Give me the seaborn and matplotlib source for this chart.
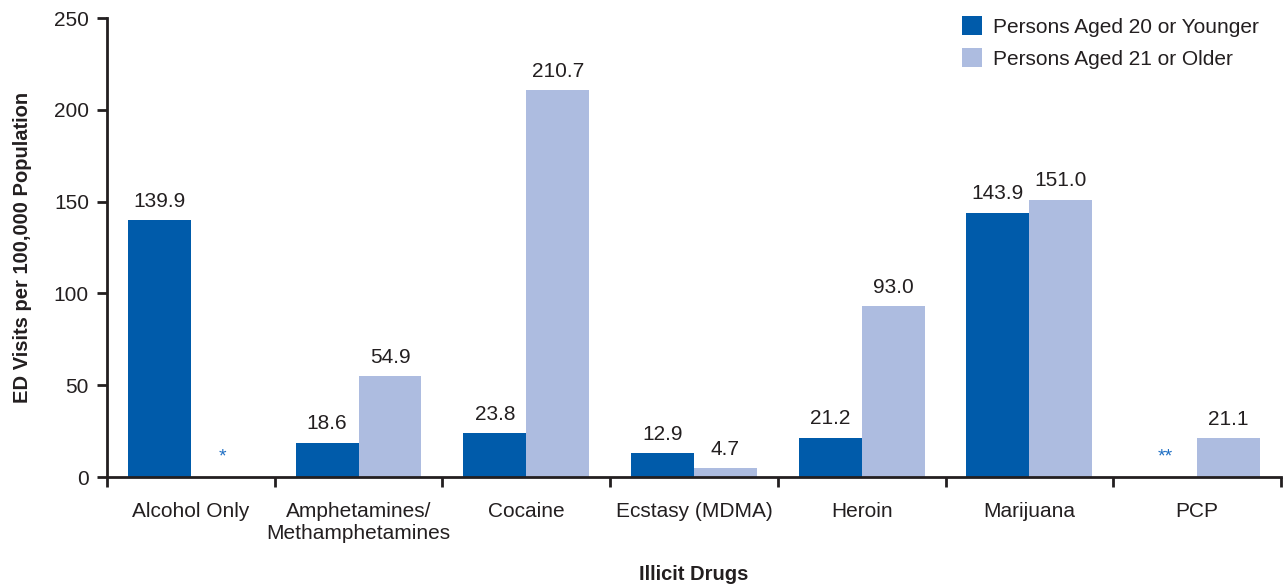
import numpy as np
import pandas as pd
import matplotlib
matplotlib.use("Agg")
import matplotlib.pyplot as plt
import seaborn as sns

categories = ["Alcohol Only", "Amphetamines/\nMethamphetamines", "Cocaine",
              "Ecstasy (MDMA)", "Heroin", "Marijuana", "PCP"]
younger = [139.9, 18.6, 23.8, 12.9, 21.2, 143.9, np.nan]
older = [np.nan, 54.9, 210.7, 4.7, 93.0, 151.0, 21.1]
series = ["Persons Aged 20 or Younger", "Persons Aged 21 or Older"]
# markers for suppressed estimates: (category index, series index, text)
notes = [(0, 1, "*"), (6, 0, "**")]

df = pd.DataFrame({
    "drug": categories * 2,
    "group": [series[0]] * len(categories) + [series[1]] * len(categories),
    "value": younger + older,
})

sns.set_style("white")
plt.rcParams['font.family'] = ['Liberation Sans', 'DejaVu Sans']
text_col = "#231f20"
colors = ["#005BAA", "#ADBCE0"]

fig = plt.figure(figsize=(12.83, 5.86), dpi=100)
ax = fig.add_axes([0.0834, 0.186, 0.915, 0.783])

sns.barplot(data=df, x="drug", y="value", hue="group", palette=colors,
            width=0.75, saturation=1, ax=ax, errorbar=None, linewidth=0)

# value labels
for cont in ax.containers:
    labels = ["" if np.isnan(v) else f"{v:.1f}" for v in cont.datavalues]
    ax.bar_label(cont, labels=labels, padding=7, fontsize=15, color=text_col)

# asterisks for suppressed values
bw = 0.375
for ci, si, txt in notes:
    xpos = ci + (si - 0.5) * bw
    ax.text(xpos, 11, txt, ha="center", va="center", fontsize=14,
            color="#1f6fc4")

ax.set_ylim(0, 250)
ax.set_xlim(-0.5, len(categories) - 0.5)
ax.set_yticks(range(0, 251, 50))
ax.set_xticks(range(len(categories)))
ax.set_xticklabels(categories, fontsize=15, color=text_col)
ax.tick_params(axis="x", length=0, pad=18)
ax.tick_params(axis="y", labelsize=15, labelcolor=text_col, length=7,
               width=2, color=text_col, direction="out", left=True, pad=6)
# boundary ticks on x axis
ax.set_xticks(np.arange(-0.5, len(categories), 1), minor=True)
ax.tick_params(axis="x", which="minor", length=7, width=2, color=text_col,
               direction="out", bottom=True)

for s in ["top", "right"]:
    ax.spines[s].set_visible(False)
for s in ["left", "bottom"]:
    ax.spines[s].set_color(text_col)
    ax.spines[s].set_linewidth(2)

ax.set_ylabel("ED Visits per 100,000 Population", fontsize=14.5,
              fontweight="bold", color=text_col, labelpad=16)
ax.set_xlabel("Illicit Drugs", fontsize=14.5, fontweight="bold",
              color=text_col, labelpad=16)

leg = ax.legend(loc="upper right", bbox_to_anchor=(0.997, 1.045), frameon=False,
                fontsize=15, handlelength=1.0, handleheight=1.0,
                handletextpad=0.5, labelspacing=0.55, title=None)
for t in leg.get_texts():
    t.set_color(text_col)

fig.savefig("out.png", dpi=100)
